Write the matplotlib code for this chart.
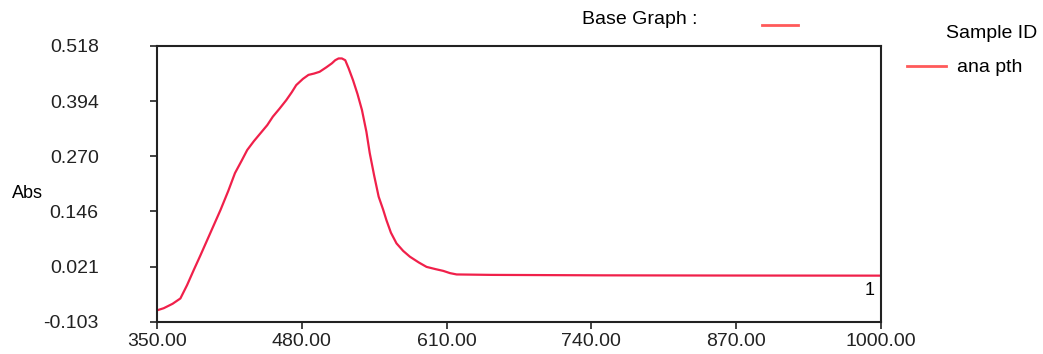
import matplotlib.pyplot as plt

plt.rcParams['font.family'] = ['Liberation Sans', 'DejaVu Sans']

# spectrum
wavelength = [351, 356, 364, 371, 377, 383, 389, 395, 401, 407, 414, 420, 426, 431, 437,
              443, 449, 454, 460, 466, 471, 475, 481, 486, 491, 496, 502, 507, 510,
              513, 516, 519, 522, 526, 530, 534, 538, 541, 545, 549, 553, 556, 560,
              565, 571, 577, 585, 592, 600, 607, 613, 619,
              650, 700, 750, 800, 850, 900, 950, 1000]
absorbance = [-0.076, -0.072, -0.062, -0.050, -0.020, 0.014, 0.047, 0.081, 0.115, 0.149,
              0.192, 0.232, 0.260, 0.284, 0.304, 0.322, 0.340, 0.359, 0.377, 0.396,
              0.414, 0.430, 0.444, 0.453, 0.456, 0.460, 0.470, 0.479, 0.486,
              0.490, 0.490, 0.486, 0.468, 0.441, 0.410, 0.374, 0.325, 0.277, 0.226,
              0.179, 0.150, 0.126, 0.098, 0.074, 0.057, 0.044, 0.031, 0.021, 0.016,
              0.012, 0.007, 0.004,
              0.003, 0.0025, 0.002, 0.0018, 0.0016, 0.0015, 0.0014, 0.0013]

x_ticks = [350, 480, 610, 740, 870, 1000]
y_ticks = [-0.103, 0.021, 0.146, 0.270, 0.394, 0.518]

fig = plt.figure(figsize=(10.43, 3.54), dpi=100)
ax = fig.add_axes([157 / 1043, 1 - 322 / 354, 724 / 1043, 276 / 354])

ax.plot(wavelength, absorbance, color='#f0204a', linewidth=1.6)

ax.set_xlim(350, 1000)
ax.set_ylim(-0.103, 0.518)
ax.set_xticks(x_ticks)
ax.set_xticklabels([f'{v:.2f}' for v in x_ticks])
ax.set_yticks(y_ticks)
ax.set_yticklabels([f'{v:.3f}' for v in y_ticks])
ax.tick_params(labelsize=14, length=5, width=1.2, colors='#222222')
ax.tick_params(axis='x', pad=3)
ax.tick_params(axis='y', pad=37)
for s in ax.spines.values():
    s.set_linewidth(1.5)
    s.set_color('#222222')

fig.text(12 / 1043, 1 - 193 / 354, 'Abs', fontsize=13, va='center', ha='left')
ax.text(994, -0.032, '1', fontsize=13, ha='right', va='center')

# legend area
fig.text(582 / 1043, 1 - 20 / 354, 'Base Graph :', fontsize=14, va='center')
fig.add_artist(plt.Line2D([762 / 1043, 798 / 1043], [1 - 25 / 354] * 2,
                          color='#ff5a5a', linewidth=2))
fig.text(946 / 1043, 1 - 34 / 354, 'Sample ID', fontsize=14, va='center')
fig.add_artist(plt.Line2D([907 / 1043, 946 / 1043], [1 - 66 / 354] * 2,
                          color='#ff5a5a', linewidth=2))
fig.text(957 / 1043, 1 - 68 / 354, 'ana pth', fontsize=14, va='center')

fig.savefig('out.png', dpi=100)
